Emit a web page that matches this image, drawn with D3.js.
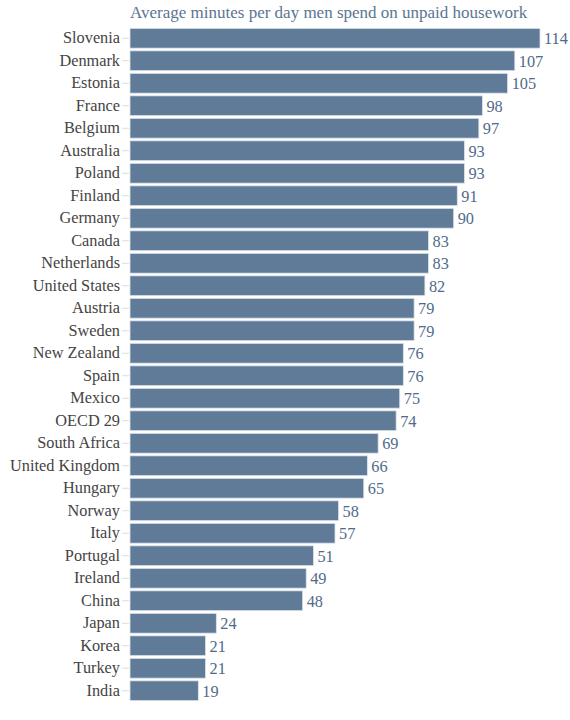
<!doctype html>
<html>
<head>
<meta charset="utf-8"/>
<title>Men and unpaid housework</title>
<script src="https://d3js.org/d3.v7.min.js"></script>
<style>
body { margin: 0; background: #fff; }
</style>
</head>
<body>
<svg id="chart"></svg>
<script>
const title = 'Average minutes per day men spend on unpaid housework';
const countries = ['Slovenia', 'Denmark', 'Estonia', 'France', 'Belgium', 'Australia',
    'Poland', 'Finland', 'Germany', 'Canada', 'Netherlands', 'United States', 'Austria',
    'Sweden', 'New Zealand', 'Spain', 'Mexico', 'OECD 29', 'South Africa',
    'United Kingdom', 'Hungary', 'Norway', 'Italy', 'Portugal', 'Ireland', 'China',
    'Japan', 'Korea', 'Turkey', 'India'];
const minutes = [114, 107, 105, 98, 97, 93, 93, 91, 90, 83, 83, 82, 79, 79, 76, 76,
    75, 74, 69, 66, 65, 58, 57, 51, 49, 48, 24, 21, 21, 19];

const width = 570, height = 720;
const margin = {top: 27, right: 30, bottom: 18, left: 130};
const font = '"Liberation Serif", "Times New Roman", serif';

const svg = d3.select('#chart')
    .attr('width', width)
    .attr('height', height);

const x = d3.scaleLinear()
    .domain([0, d3.max(minutes)])
    .range([margin.left, width - margin.right]);

const y = d3.scaleBand()
    .domain(countries)
    .range([margin.top, height - margin.bottom])
    .paddingInner(0.12)
    .paddingOuter(0.06);

// title
svg.append('text')
    .attr('x', margin.left)
    .attr('y', 18)
    .style('font-family', font)
    .style('font-size', '17px')
    .style('fill', '#5b7592')
    .text(title);

// country axis, short light ticks, no domain line
const yAxis = svg.append('g')
    .attr('transform', `translate(${margin.left - 1},0)`)
    .call(d3.axisLeft(y).tickSize(7).tickPadding(2));
yAxis.select('.domain').remove();
yAxis.selectAll('line').style('stroke', '#ddd');
yAxis.selectAll('text')
    .style('font-family', font)
    .style('font-size', '16.3px')
    .style('fill', '#444');

// bars
svg.append('g')
    .selectAll('rect')
    .data(countries)
    .join('rect')
    .attr('x', x(0))
    .attr('y', d => y(d))
    .attr('width', (d, i) => x(minutes[i]) - x(0))
    .attr('height', y.bandwidth())
    .style('fill', '#5f7b97')
    .style('stroke', '#dde4ec')
    .style('stroke-width', 0.8);

// value labels
svg.append('g')
    .selectAll('text')
    .data(countries)
    .join('text')
    .attr('x', (d, i) => x(minutes[i]) + 4)
    .attr('y', d => y(d) + y.bandwidth() / 2)
    .attr('dy', '0.36em')
    .style('font-family', font)
    .style('font-size', '16.3px')
    .style('fill', '#4f6a8a')
    .text((d, i) => minutes[i]);
</script>
</body>
</html>
